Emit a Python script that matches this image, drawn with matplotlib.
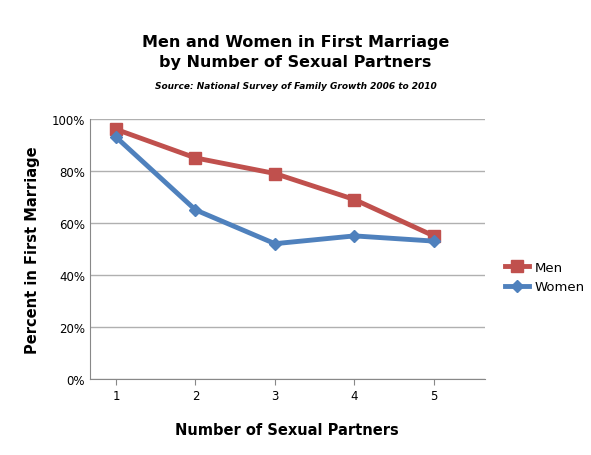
import matplotlib
matplotlib.use("Agg")
import matplotlib.pyplot as plt

partners = [1, 2, 3, 4, 5]
men = [96, 85, 79, 69, 55]
women = [93, 65, 52, 55, 53]
yticks = [0, 20, 40, 60, 80, 100]
ytick_labels = ["0%", "20%", "40%", "60%", "80%", "100%"]

fig = plt.figure(figsize=(5.91, 4.56), dpi=100)
ax = fig.add_axes([0.152, 0.167, 0.668, 0.570])
ax.plot(partners, men, color="#C0504D", lw=3.5, marker="s", ms=8, label="Men")
ax.plot(partners, women, color="#4F81BD", lw=3.5, marker="D", ms=6, label="Women")
ax.set_xlim(0.67, 5.64)
ax.set_ylim(0, 100)
ax.set_xticks(partners)
ax.set_yticks(yticks)
ax.set_yticklabels(ytick_labels)
ax.yaxis.grid(True, color="#b0b0b0", lw=1)
ax.set_axisbelow(True)
for s in ["top", "right"]:
    ax.spines[s].set_visible(False)
ax.spines["left"].set_color("#888888")
ax.spines["bottom"].set_color("#888888")
ax.tick_params(axis="both", labelsize=8.5, color="#888888", length=4)
ax.tick_params(axis="y", length=0)
ax.set_xlabel("Number of Sexual Partners", fontsize=10.5, fontweight="bold", labelpad=14)
ax.set_ylabel("Percent in First Marriage", fontsize=10.5, fontweight="bold", labelpad=8)
fig.text(0.5, 0.885, "Men and Women in First Marriage\nby Number of Sexual Partners",
         ha="center", va="center", fontsize=11.5, fontweight="bold", linespacing=1.4)
fig.text(0.5, 0.81, "Source: National Survey of Family Growth 2006 to 2010",
         ha="center", va="center", fontsize=6.5, fontweight="bold", style="italic")
fig.legend(loc="center left", bbox_to_anchor=(0.835, 0.39), frameon=False, fontsize=9.5,
           handlelength=1.8, handletextpad=0.4)
fig.savefig("out.png", dpi=100, facecolor="white")
